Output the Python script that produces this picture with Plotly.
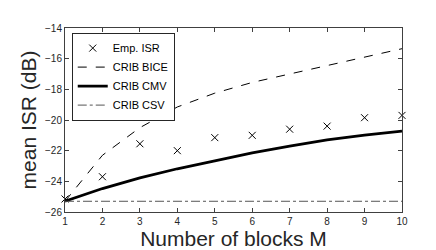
import plotly.graph_objects as go

M = [1, 2, 3, 4, 5, 6, 7, 8, 9, 10]
emp_isr = [-25.15, -23.7, -21.55, -22.0, -21.15, -21.0, -20.6, -20.4, -19.85, -19.7]
crib_bice = [-25.3, -22.3, -20.5, -19.15, -18.25, -17.55, -17.0, -16.45, -15.9, -15.35]
crib_cmv = [-25.3, -24.47, -23.78, -23.18, -22.67, -22.15, -21.7, -21.3, -20.98, -20.72]
crib_csv = [-25.3] * 10

x_ticks = [1, 2, 3, 4, 5, 6, 7, 8, 9, 10]
y_ticks = [-26, -24, -22, -20, -18, -16, -14]

FONT = "Liberation Sans, Arial, Helvetica, sans-serif"
AX = "#404040"

fig = go.Figure()
fig.add_trace(go.Scatter(x=M, y=emp_isr, mode="markers", name="Emp. ISR", cliponaxis=False,
                         marker=dict(symbol="x-thin", size=7, line=dict(width=1, color="black"), color="black")))
fig.add_trace(go.Scatter(x=M, y=crib_bice, mode="lines", name="CRIB BICE",
                         line=dict(color="black", width=1, dash="dash")))
fig.add_trace(go.Scatter(x=M, y=crib_cmv, mode="lines", name="CRIB CMV",
                         line=dict(color="black", width=2.8)))
fig.add_trace(go.Scatter(x=M, y=crib_csv, mode="lines", name="CRIB CSV",
                         line=dict(color="#555555", width=1, dash="dashdot")))

fig.update_layout(
    width=436, height=250,
    margin=dict(l=57, r=42, t=20, b=44),
    paper_bgcolor="white", plot_bgcolor="white",
    font=dict(family=FONT, color="#262626"),
    showlegend=True,
    legend=dict(x=0.02, y=0.975, xanchor="left", yanchor="top",
                bgcolor="white", bordercolor="#262626", borderwidth=1,
                font=dict(size=11, family=FONT, color="black"),
                tracegroupgap=0, itemwidth=30),
    xaxis=dict(range=[1, 10], tickvals=x_ticks, ticks="inside", ticklen=4,
               showline=True, linecolor=AX, linewidth=1, mirror="ticks",
               tickcolor=AX, showgrid=False, zeroline=False,
               tickfont=dict(size=10, family=FONT, color="#262626"),
               title=dict(text="Number of blocks M", font=dict(size=21, family=FONT, color="#262626"), standoff=4)),
    yaxis=dict(range=[-26, -14], tickvals=y_ticks, ticks="inside", ticklen=4,
               showline=True, linecolor=AX, linewidth=1, mirror="ticks",
               tickcolor=AX, showgrid=False, zeroline=False,
               tickfont=dict(size=10, family=FONT, color="#262626"),
               title=dict(text="mean ISR (dB)", font=dict(size=21, family=FONT, color="#262626"), standoff=2)),
)

fig.write_html("out.html")
